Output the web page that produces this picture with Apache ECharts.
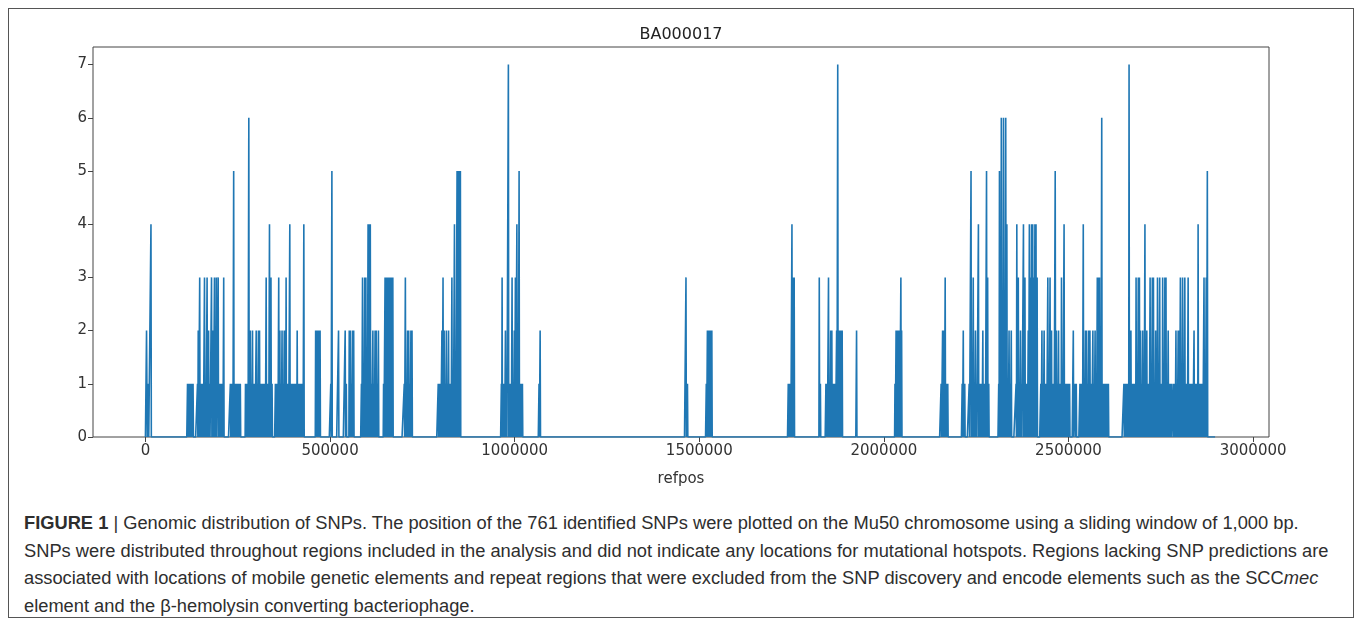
<!DOCTYPE html>
<html>
<head>
<meta charset="utf-8">
<title>BA000017 SNP distribution</title>
<script src="https://cdn.jsdelivr.net/npm/echarts@6/dist/echarts.min.js"></script>
<style>
  html, body { margin: 0; padding: 0; background: #fff; }
  #wrap { position: relative; width: 1357px; height: 621px; overflow: hidden; }
  #frame {
    position: absolute; left: 8px; top: 8px; width: 1344px; height: 608px;
    border: 1px solid #555;
  }
  #chart { position: absolute; left: 0; top: 0; width: 1357px; height: 500px; }
  #caption {
    position: absolute; left: 24px; top: 509px; width: 1320px;
    font-family: "Liberation Sans", Arial, sans-serif; font-size: 18.3px;
    line-height: 27.5px; color: #2e2e2e; white-space: nowrap;
  }
  #caption b { font-weight: bold; }
</style>
</head>
<body>
<div id="wrap">
  <div id="frame"></div>
  <div id="chart"></div>
  <div id="caption">
    <b>FIGURE 1</b> | Genomic distribution of SNPs. The position of the 761 identified SNPs were plotted on the Mu50 chromosome using a sliding window of 1,000 bp.<br>
    SNPs were distributed throughout regions included in the analysis and did not indicate any locations for mutational hotspots. Regions lacking SNP predictions are<br>
    associated with locations of mobile genetic elements and repeat regions that were excluded from the SNP discovery and encode elements such as the SCC<i>mec</i><br>
    element and the β-hemolysin converting bacteriophage.
  </div>
</div>
<script>
  // chart text
  const chartTitle = 'BA000017';
  const xName = 'refpos';
  const xTicks = [0, 500000, 1000000, 1500000, 2000000, 2500000, 3000000];
  const yTicks = [0, 1, 2, 3, 4, 5, 6, 7];

  // sliding window size (bp) and number of windows on the chromosome
  const windowSize = 1000;
  const windowCount = 2899;

  // windows that hold SNPs: [window start in kb, SNP count]
  const snpWindows = [
    [3, 2], [4, 2], [8, 1], [15, 4],
    [114, 1], [117, 1], [120, 1], [123, 1], [126, 1], [129, 1],
    [141, 1], [143, 2], [147, 3], [150, 1], [153, 1], [156, 1], [160, 3], [163, 1], [167, 3], [171, 2],
    [174, 1], [179, 3], [183, 2], [187, 3], [190, 1], [192, 3], [197, 3], [200, 1], [203, 1], [206, 1],
    [209, 1], [212, 3],
    [230, 1], [233, 1], [236, 1], [239, 5], [242, 1], [245, 1], [248, 1], [251, 1], [254, 1], [257, 1],
    [271, 1], [274, 1], [277, 1], [280, 6], [284, 2], [287, 1], [290, 2], [293, 1], [296, 1], [300, 2],
    [303, 1], [306, 2], [309, 2], [312, 1], [315, 1], [318, 1], [321, 1], [324, 1], [327, 3], [330, 1],
    [333, 1], [336, 4], [340, 3], [343, 1],
    [352, 1], [355, 1], [358, 1], [361, 3], [364, 2], [367, 1], [370, 2], [373, 1], [376, 2], [379, 2],
    [381, 3], [384, 1], [387, 1], [391, 4], [394, 1], [397, 1], [400, 1], [403, 1], [406, 1], [409, 1],
    [411, 2], [414, 1], [417, 1], [420, 1], [423, 1], [426, 1], [429, 4],
    [461, 2], [464, 2], [467, 2], [470, 2], [473, 2],
    [502, 1], [505, 5], [523, 2], [541, 2], [544, 1], [552, 2], [555, 2], [558, 1], [561, 2], [564, 2],
    [585, 1], [588, 3], [591, 1], [594, 3], [597, 3], [600, 1], [603, 4], [606, 4], [609, 4], [612, 1],
    [616, 2], [619, 1], [622, 2], [625, 2], [628, 1], [631, 2],
    [645, 1], [649, 3], [652, 3], [655, 3], [658, 3], [661, 3], [664, 3], [667, 3], [670, 3],
    [701, 1], [704, 3], [707, 1], [710, 2], [713, 2], [716, 1], [719, 2], [722, 2],
    [793, 1], [796, 1], [799, 1], [803, 2], [806, 3], [809, 2], [812, 1], [815, 2], [818, 1], [821, 2],
    [824, 1], [827, 1], [830, 3], [833, 1], [837, 4], [840, 1], [844, 5], [847, 5], [850, 5], [853, 5],
    [964, 1], [966, 3], [969, 1], [972, 1], [975, 2], [978, 1], [983, 7], [986, 1], [990, 1], [993, 3],
    [996, 1], [999, 2], [1002, 3], [1006, 4], [1009, 1], [1012, 5], [1015, 1], [1018, 1], [1021, 1],
    [1066, 1], [1069, 2],
    [1464, 3], [1468, 1],
    [1519, 1], [1522, 2], [1525, 2], [1528, 2], [1531, 2], [1534, 2],
    [1741, 1], [1744, 1], [1747, 1], [1751, 4], [1754, 3], [1757, 3],
    [1825, 3], [1828, 1],
    [1843, 1], [1846, 1], [1850, 3], [1853, 1], [1856, 2], [1859, 2], [1862, 1], [1865, 1], [1868, 1],
    [1872, 2], [1875, 7], [1878, 2], [1881, 2], [1884, 2], [1887, 2],
    [1926, 2],
    [2030, 1], [2033, 2], [2036, 2], [2039, 2], [2042, 2], [2046, 3], [2048, 2],
    [2155, 1], [2159, 2], [2163, 2], [2166, 3], [2170, 1], [2173, 1],
    [2212, 1], [2215, 2], [2219, 1],
    [2231, 1], [2236, 5], [2239, 1], [2242, 3], [2245, 1], [2248, 2], [2251, 1], [2256, 4], [2259, 1],
    [2262, 1], [2265, 1], [2268, 2], [2271, 1], [2274, 1], [2278, 5], [2281, 3], [2284, 1],
    [2311, 1], [2313, 5], [2316, 1], [2318, 6], [2321, 2], [2324, 6], [2327, 2], [2330, 6], [2333, 4],
    [2336, 1], [2339, 2], [2342, 1], [2345, 2],
    [2358, 1], [2360, 4], [2364, 3], [2367, 1], [2370, 2], [2373, 1], [2378, 4], [2382, 3], [2385, 1],
    [2388, 1], [2391, 2], [2394, 4], [2397, 3], [2400, 4], [2403, 4], [2406, 3], [2409, 4], [2412, 4],
    [2415, 3],
    [2425, 1], [2428, 2], [2431, 1], [2434, 2], [2437, 1], [2440, 1], [2444, 3], [2447, 1], [2450, 3],
    [2454, 2], [2457, 1], [2460, 1], [2464, 5], [2467, 2], [2470, 1], [2473, 2], [2476, 1], [2479, 1],
    [2481, 3], [2484, 1], [2488, 4], [2491, 1], [2494, 1], [2497, 1], [2500, 1], [2503, 1],
    [2513, 2], [2518, 1], [2521, 1],
    [2531, 1], [2534, 1], [2537, 1], [2540, 4], [2543, 1], [2546, 2], [2549, 2], [2552, 1], [2555, 2],
    [2558, 2], [2562, 1], [2566, 2], [2569, 1], [2572, 2], [2575, 1], [2578, 3], [2581, 3], [2584, 3],
    [2587, 1], [2590, 6], [2593, 1], [2596, 1], [2599, 1], [2602, 1], [2605, 1], [2608, 1],
    [2650, 1], [2653, 1], [2656, 1], [2659, 1], [2662, 1], [2664, 7], [2667, 1], [2669, 2], [2672, 1],
    [2675, 1], [2678, 1], [2681, 1], [2683, 3], [2686, 1], [2689, 3], [2692, 3], [2695, 2], [2698, 1],
    [2701, 2], [2704, 1], [2707, 4], [2710, 1], [2712, 2], [2715, 1], [2718, 1], [2721, 3], [2724, 1],
    [2727, 3], [2730, 3], [2733, 1], [2736, 2], [2739, 1], [2741, 3], [2744, 1], [2747, 3], [2750, 1],
    [2753, 1], [2755, 3], [2758, 1], [2761, 3], [2764, 3], [2767, 1], [2770, 2], [2773, 1], [2776, 1],
    [2779, 1], [2784, 1], [2788, 1], [2791, 2], [2794, 1], [2797, 2], [2800, 2], [2803, 3], [2806, 1],
    [2809, 3], [2812, 1], [2815, 3], [2818, 1], [2821, 1], [2824, 3], [2827, 1], [2830, 1], [2833, 1],
    [2836, 1], [2840, 2], [2843, 1], [2846, 1], [2849, 1], [2851, 4], [2854, 1], [2857, 1], [2860, 1],
    [2863, 1], [2867, 3], [2870, 1], [2873, 3], [2876, 5]
  ];

  // every window of the chromosome, empty ones count 0
  const counts = new Array(windowCount).fill(0);
  snpWindows.forEach(([kb, n]) => { counts[kb] = n; });
  const lineData = counts.map((n, i) => [i * windowSize, n]);

  const axisFont = { fontFamily: 'DejaVu Sans', fontSize: 15, color: '#333' };

  const chart = echarts.init(document.getElementById('chart'), null, { renderer: 'canvas' });
  chart.setOption({
    animation: false,
    title: {
      text: chartTitle,
      left: 676, top: 22, textAlign: 'center',
      textStyle: { fontFamily: 'DejaVu Sans', fontSize: 16, fontWeight: 'normal', color: '#222' }
    },
    grid: {
      left: 93, top: 47, width: 1176, height: 390,
      show: true, borderColor: '#444', borderWidth: 1, backgroundColor: '#fff'
    },
    xAxis: {
      type: 'value',
      min: -142000, max: 3043000,
      name: xName, nameLocation: 'middle', nameGap: 35,
      nameTextStyle: axisFont,
      splitLine: { show: false },
      axisLine: { show: false, onZero: false },
      axisTick: { show: true, length: 5, lineStyle: { color: '#444' }, customValues: xTicks },
      axisLabel: { ...axisFont, margin: 7, customValues: xTicks, formatter: v => String(v) }
    },
    yAxis: {
      type: 'value',
      min: 0, max: 7.33,
      position: 'left',
      splitLine: { show: false },
      axisLine: { show: false, onZero: false },
      axisTick: { show: true, length: 5, lineStyle: { color: '#444' }, customValues: yTicks },
      axisLabel: { ...axisFont, margin: 6, customValues: yTicks }
    },
    series: [{
      type: 'line',
      data: lineData,
      showSymbol: false,
      symbol: 'none',
      sampling: null,
      clip: true,
      lineStyle: { color: '#1f77b4', width: 1.6 }
    }]
  });
</script>
</body>
</html>
